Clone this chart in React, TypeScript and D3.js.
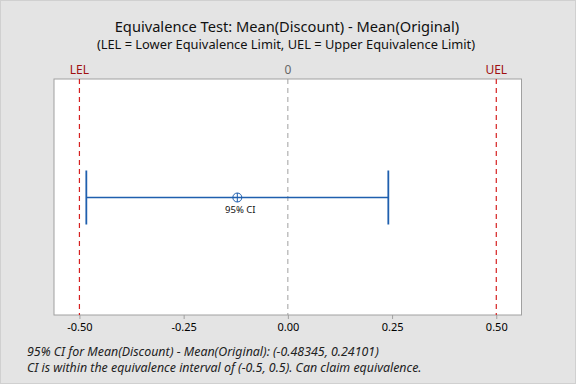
import { useRef, useEffect } from 'react';
import * as d3 from 'd3';

const TITLE = 'Equivalence Test: Mean(Discount) - Mean(Original)';
const SUBTITLE = '(LEL = Lower Equivalence Limit, UEL = Upper Equivalence Limit)';
const TICKS = [-0.5, -0.25, 0, 0.25, 0.5];
const LIMITS = [
  { label: 'LEL', value: -0.5 },
  { label: 'UEL', value: 0.5 },
];
const CI = [-0.48345, 0.24101];
const CI_LABEL = '95% CI';
const FOOTER = [
  '95% CI for Mean(Discount) - Mean(Original): (-0.48345, 0.24101)',
  'CI is within the equivalence interval of (-0.5, 0.5). Can claim equivalence.',
];

const FONT = '"Noto Sans", "Open Sans", sans-serif';

export default function App() {
  const svgRef = useRef<SVGSVGElement>(null);

  useEffect(() => {
    if (!svgRef.current) return;
    const width = 576;
    const h = 384;
    const box = { left: 54, right: 521.5, top: 79, bottom: 315 };

    const svg = d3.select(svgRef.current);
    svg.selectAll('*').remove();
    svg.attr('width', width).attr('height', h).attr('viewBox', `0 0 ${width} ${h}`);

    svg.append('rect')
      .attr('x', 0.5).attr('y', 0.5).attr('width', width - 1).attr('height', h - 1)
      .attr('fill', '#e4e4e4').attr('stroke', '#d0d0d0');

    const x = d3.scaleLinear()
      .domain([-0.561, 0.5605])
      .range([box.left, box.right]);

    const yMid = 197.5;

    // Plot area
    svg.append('rect')
      .attr('x', box.left).attr('y', box.top)
      .attr('width', box.right - box.left).attr('height', box.bottom - box.top)
      .attr('fill', 'white').attr('stroke', '#a0a0a0').attr('stroke-width', 1);

    // Axis
    const fmt = d3.format('.2f');
    svg.append('g')
      .attr('transform', `translate(0,${box.bottom})`)
      .call(d3.axisBottom(x).tickValues(TICKS).tickSize(4).tickPadding(4)
        .tickFormat(d => fmt(d as number).replace('\u2212', '-')))
      .call(g => g.select('.domain').remove())
      .call(g => g.selectAll('.tick line').attr('stroke', '#a0a0a0'))
      .call(g => g.selectAll('.tick text').attr('fill', '#000').attr('font-size', '11px').attr('font-family', FONT));

    // Zero reference
    svg.append('line')
      .attr('x1', x(0)).attr('x2', x(0))
      .attr('y1', box.top).attr('y2', box.bottom)
      .attr('stroke', '#a0a0a0').attr('stroke-dasharray', '5,4');
    svg.append('text')
      .attr('x', x(0)).attr('y', 74)
      .attr('text-anchor', 'middle')
      .attr('fill', '#666').attr('font-size', '12px').attr('font-family', FONT)
      .text('0');

    // Equivalence limits
    LIMITS.forEach(l => {
      svg.append('line')
        .attr('x1', x(l.value)).attr('x2', x(l.value))
        .attr('y1', box.top).attr('y2', box.bottom)
        .attr('stroke', '#d62020').attr('stroke-width', 1.2).attr('stroke-dasharray', '5,4');
      svg.append('text')
        .attr('x', x(l.value)).attr('y', 74)
        .attr('text-anchor', 'middle')
        .attr('fill', '#a01010').attr('font-size', '12px').attr('font-family', FONT)
        .text(l.label);
    });

    // CI
    const blue = '#1f5fae';
    svg.append('line')
      .attr('x1', x(CI[0])).attr('x2', x(CI[1]))
      .attr('y1', yMid).attr('y2', yMid)
      .attr('stroke', blue).attr('stroke-width', 1.5);
    CI.forEach(v => {
      svg.append('line')
        .attr('x1', x(v)).attr('x2', x(v))
        .attr('y1', yMid - 27).attr('y2', yMid + 27)
        .attr('stroke', blue).attr('stroke-width', 1.8);
    });
    const mid = (CI[0] + CI[1]) / 2;
    svg.append('circle')
      .attr('cx', x(mid)).attr('cy', yMid).attr('r', 4.5)
      .attr('fill', 'none').attr('stroke', blue).attr('stroke-width', 1);
    svg.append('line')
      .attr('x1', x(mid)).attr('x2', x(mid))
      .attr('y1', yMid - 4.5).attr('y2', yMid + 4.5)
      .attr('stroke', blue).attr('stroke-width', 1);
    svg.append('text')
      .attr('x', x(mid) + 3).attr('y', yMid + 15)
      .attr('text-anchor', 'middle')
      .attr('fill', '#111').attr('font-size', '9.5px').attr('font-family', FONT)
      .text(CI_LABEL);

    // Titles
    svg.append('text')
      .attr('x', 287).attr('y', 32)
      .attr('text-anchor', 'middle')
      .attr('fill', '#111').attr('font-size', '14.65px').attr('font-family', FONT)
      .text(TITLE);
    svg.append('text')
      .attr('x', 286).attr('y', 49)
      .attr('text-anchor', 'middle')
      .attr('fill', '#111').attr('font-size', '12.85px').attr('font-family', FONT)
      .text(SUBTITLE);

    // Footer
    FOOTER.forEach((t, i) => {
      svg.append('text')
        .attr('x', 27).attr('y', 356 + i * 16)
        .attr('fill', '#222').attr('font-size', '12.4px').attr('font-style', 'italic').attr('font-family', FONT)
        .text(t);
    });
  }, []);

  return <svg ref={svgRef} style={{ position: 'absolute', left: 0, top: 0, display: 'block' }} />;
}
